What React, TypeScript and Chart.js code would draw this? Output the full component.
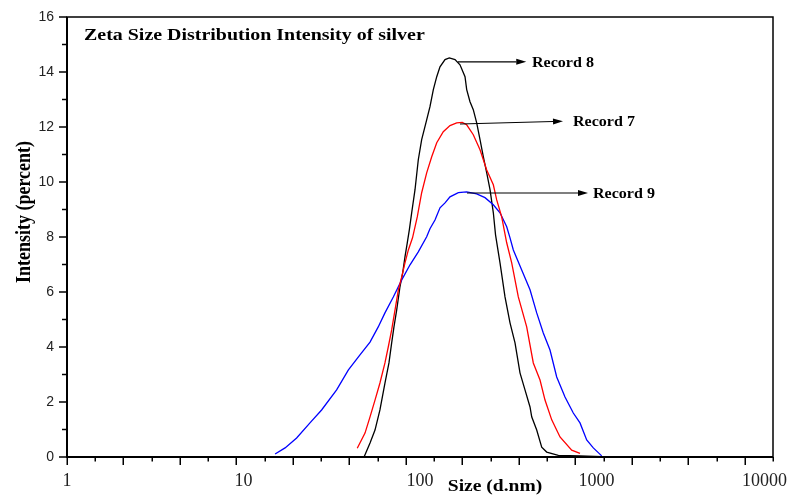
import React, { useEffect, useRef } from "react";
import { Chart, registerables } from "chart.js";

Chart.register(...registerables);

// ---- Data (size in d.nm, intensity in percent) ----
const record8Size = [48.2, 52.1, 55.6, 59.3, 63.3, 66.7, 69.1, 71.2, 73.8, 77.0, 79.8, 82.2, 84.7, 87.0, 89.7, 93.7, 97.8, 102.2, 109.1, 113.9, 119.0, 124.4, 129.8, 138.6, 146.6, 157.9, 168.5, 179.9, 183.9, 192.0, 200.4, 209.5, 218.8, 228.4, 238.8, 249.3, 260.3, 267.9, 284.0, 303.1, 323.6, 345.4, 368.6, 393.4, 420.1, 429.4, 458.4, 489.3, 522.2, 607.6, 806.3, 1070];
const record8Intensity = [0.0, 0.51, 0.98, 1.71, 2.69, 3.42, 4.15, 4.73, 5.35, 6.19, 6.70, 7.28, 7.79, 8.26, 8.88, 9.72, 10.81, 11.54, 12.26, 12.74, 13.36, 13.83, 14.19, 14.45, 14.51, 14.45, 14.26, 13.83, 13.36, 12.92, 12.63, 12.15, 11.54, 10.92, 10.33, 9.72, 8.88, 8.08, 7.06, 5.82, 4.88, 4.15, 3.06, 2.44, 1.82, 1.46, 0.98, 0.36, 0.18, 0.06, 0.04, 0.01];

const record7Size = [44.1, 48.8, 52.1, 55.6, 59.3, 63.3, 66.1, 69.1, 72.2, 75.4, 78.8, 82.2, 85.9, 90.7, 96.5, 102.2, 109.1, 116.5, 124.4, 135.5, 147.9, 161.4, 173.6, 183.9, 200.4, 218.8, 238.8, 260.3, 272.0, 290.3, 309.9, 330.8, 360.6, 402.2, 438.5, 478.6, 510.8, 557.6, 621.2, 723.5, 806.3];
const record7Intensity = [0.32, 0.87, 1.46, 2.07, 2.69, 3.42, 4.00, 4.62, 5.35, 6.08, 6.55, 7.06, 7.53, 7.97, 8.73, 9.61, 10.33, 10.92, 11.43, 11.83, 12.05, 12.15, 12.17, 12.08, 11.72, 11.17, 10.44, 9.90, 9.35, 8.73, 7.79, 7.06, 5.82, 4.73, 3.42, 2.80, 2.07, 1.35, 0.73, 0.25, 0.13];

const record9Size = [15.1, 17.2, 20.0, 23.8, 27.7, 33.7, 39.3, 45.7, 52.1, 58.0, 63.3, 70.6, 78.8, 87.8, 97.8, 109.1, 113.9, 121.6, 129.8, 138.6, 147.9, 164.8, 183.9, 209.5, 233.5, 260.3, 284.0, 309.9, 323.6, 337.9, 376.9, 420.1, 458.4, 499.5, 545.2, 595.0, 663.1, 738.9, 806.3, 879.9, 959.2, 1070];
const record9Intensity = [0.11, 0.33, 0.69, 1.24, 1.71, 2.44, 3.17, 3.71, 4.18, 4.73, 5.24, 5.82, 6.44, 6.99, 7.46, 8.01, 8.30, 8.62, 9.06, 9.24, 9.46, 9.61, 9.64, 9.57, 9.43, 9.17, 8.88, 8.37, 7.97, 7.53, 6.80, 6.08, 5.24, 4.51, 3.89, 2.91, 2.18, 1.60, 1.24, 0.62, 0.33, 0.04];

// Axis tick labels
const xTickLabels = [1, 10, 100, 1000, 10000];
const yTickLabels = [0, 2, 4, 6, 8, 10, 12, 14, 16];

// Arrow annotations (data coordinates)
const annotationLabels = ["Record 8", "Record 7", "Record 9"];
const annotationFromSize = [164, 168.5, 184.6];
const annotationFromIntensity = [14.37, 12.11, 9.6];
const annotationToSize = [400, 646, 895];
const annotationToIntensity = [14.37, 12.21, 9.6];
const annotationTextSize = [431, 736, 955];

const chartTitle = "Zeta Size Distribution Intensity of silver";
const xTitle = "Size (d.nm)";
const yTitle = "Intensity (percent)";

const SERIF = '"Liberation Serif", "Times New Roman", serif';
const SANS = '"Liberation Sans", Arial, sans-serif';

function drawScaledText(ctx: CanvasRenderingContext2D, text: string, x: number, y: number, font: string, sx: number, align: CanvasTextAlign, baseline: CanvasTextBaseline) {
  ctx.save();
  ctx.translate(x, y);
  ctx.scale(sx, 1);
  ctx.font = font;
  ctx.textAlign = align;
  ctx.textBaseline = baseline;
  ctx.fillStyle = "#000";
  ctx.fillText(text, 0, 0);
  ctx.restore();
}

const decorPlugin = {
  id: "decor",
  afterDraw(chart: any) {
    const { ctx, chartArea: a, scales } = chart;
    const xs = scales.x;
    const ys = scales.y;
    ctx.save();
    ctx.strokeStyle = "#000";
    // frame
    ctx.lineWidth = 1.5;
    ctx.strokeRect(a.left, a.top, a.right - a.left, a.bottom - a.top);
    ctx.lineWidth = 2;
    ctx.beginPath();
    ctx.moveTo(a.left, a.top);
    ctx.lineTo(a.left, a.bottom);
    ctx.lineTo(a.right, a.bottom);
    ctx.stroke();

    // x tick marks: evenly spaced on the log axis, long/short alternating
    ctx.lineWidth = 1.5;
    for (let k = 0; k <= 25; k++) {
      const v = Math.pow(10, (4 * k) / 25);
      const px = Math.round(xs.getPixelForValue(v)) + 0.25;
      const len = k % 2 === 0 ? 8 : 4.5;
      ctx.beginPath();
      ctx.moveTo(px, a.bottom);
      ctx.lineTo(px, a.bottom + len);
      ctx.stroke();
    }
    // y tick marks
    for (let v = 0; v <= 16; v++) {
      const py = ys.getPixelForValue(v);
      const len = v % 2 === 0 ? 8 : 5;
      ctx.beginPath();
      ctx.moveTo(a.left, py);
      ctx.lineTo(a.left - len, py);
      ctx.stroke();
    }

    // x tick labels
    ctx.font = `18px ${SERIF}`;
    ctx.fillStyle = "#222";
    ctx.textAlign = "center";
    ctx.textBaseline = "middle";
    xTickLabels.forEach((v) => {
      const t = String(v);
      const w = ctx.measureText(t).width;
      let px = xs.getPixelForValue(v);
      px = Math.min(px, chart.width - 4 - w / 2);
      ctx.fillText(t, px, a.bottom + 24);
    });

    // annotations
    ctx.fillStyle = "#000";
    ctx.lineWidth = 1.2;
    annotationLabels.forEach((label, i) => {
      const x0 = xs.getPixelForValue(annotationFromSize[i]);
      const y0 = ys.getPixelForValue(annotationFromIntensity[i]);
      const x1 = xs.getPixelForValue(annotationToSize[i]);
      const y1 = ys.getPixelForValue(annotationToIntensity[i]);
      const ang = Math.atan2(y1 - y0, x1 - x0);
      const L = 10, W = 3;
      const bx = x1 - L * Math.cos(ang);
      const by = y1 - L * Math.sin(ang);
      ctx.beginPath();
      ctx.moveTo(x0, y0);
      ctx.lineTo(bx, by);
      ctx.stroke();
      ctx.beginPath();
      ctx.moveTo(x1, y1);
      ctx.lineTo(bx - W * Math.sin(ang), by + W * Math.cos(ang));
      ctx.lineTo(bx + W * Math.sin(ang), by - W * Math.cos(ang));
      ctx.closePath();
      ctx.fill();
      drawScaledText(ctx, label, xs.getPixelForValue(annotationTextSize[i]), y1 + 1, `bold 15px ${SERIF}`, 1.07, "left", "middle");
    });

    // title inside plot
    drawScaledText(ctx, chartTitle, a.left + 17, a.top + 22.5, `bold 17.5px ${SERIF}`, 1.14, "left", "alphabetic");
    // x axis title
    drawScaledText(ctx, xTitle, 495, a.bottom + 34, `bold 17px ${SERIF}`, 1.15, "center", "alphabetic");
    // y axis title (rotated)
    ctx.save();
    ctx.translate(30, 212);
    ctx.rotate(-Math.PI / 2);
    ctx.scale(1, 1.12);
    ctx.font = `bold 18px ${SERIF}`;
    ctx.textAlign = "center";
    ctx.textBaseline = "alphabetic";
    ctx.fillStyle = "#000";
    ctx.fillText(yTitle, 0, 0);
    ctx.restore();

    ctx.restore();
  },
};

export default function App() {
  const ref = useRef<HTMLCanvasElement>(null);
  useEffect(() => {
    const canvas = ref.current as HTMLCanvasElement;
    const toPoints = (xsArr: number[], ysArr: number[]) => xsArr.map((x, i) => ({ x, y: ysArr[i] }));
    const chart = new Chart(canvas, {
      type: "line",
      data: {
        datasets: [
          { label: "Record 7", data: toPoints(record7Size, record7Intensity), borderColor: "#ff0000", borderWidth: 1.3, pointRadius: 0, tension: 0, fill: false },
          { label: "Record 9", data: toPoints(record9Size, record9Intensity), borderColor: "#0000ff", borderWidth: 1.3, pointRadius: 0, tension: 0, fill: false },
          { label: "Record 8", data: toPoints(record8Size, record8Intensity), borderColor: "#000000", borderWidth: 1.3, pointRadius: 0, tension: 0, fill: false },
        ],
      },
      options: {
        animation: false,
        responsive: false,
        layout: { padding: { top: 17, right: 18, left: 0, bottom: 0 } },
        plugins: { legend: { display: false }, tooltip: { enabled: false }, title: { display: false } },
        scales: {
          x: {
            type: "logarithmic",
            min: 1,
            max: 10000,
            grid: { display: false, drawTicks: false },
            border: { display: false },
            ticks: { display: false },
            afterBuildTicks: (s: any) => {
              s.ticks = xTickLabels.map((v) => ({ value: v }));
            },
            afterFit: (s: any) => {
              s.height = 41;
              s.paddingLeft = 0;
              s.paddingRight = 0;
            },
          },
          y: {
            min: 0,
            max: 16,
            grid: { display: false, drawTicks: false },
            border: { display: false },
            afterBuildTicks: (s: any) => {
              s.ticks = yTickLabels.map((v) => ({ value: v }));
            },
            ticks: {
              padding: 13,
              color: "#222",
              font: { family: SANS, size: 14 },
            },
            afterFit: (s: any) => {
              s.width = 67;
              s.paddingTop = 0;
              s.paddingBottom = 0;
            },
          },
        },
      } as any,
      plugins: [decorPlugin],
    });
    return () => chart.destroy();
  }, []);
  return (
    <div style={{ position: "absolute", left: 0, top: 0, width: 791, height: 498, background: "#fff" }}>
      <canvas ref={ref} width={791} height={498} style={{ width: 791, height: 498, display: "block" }} />
    </div>
  );
}
